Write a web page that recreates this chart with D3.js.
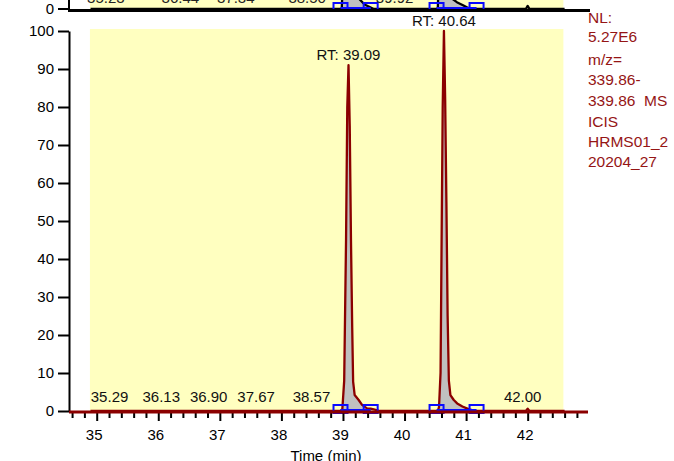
<!DOCTYPE html>
<html><head><meta charset="utf-8">
<script src="https://cdn.jsdelivr.net/npm/d3@7"></script>
<style>
html,body{margin:0;padding:0;background:#fff;}
svg{display:block;font-family:"Liberation Sans",Arial,sans-serif;}
</style></head>
<body>
<svg id="c" width="674" height="461"></svg>
<script>
// ---- data ----
// main trace: retention time (min) vs relative abundance (%)
const mainTimes = [34.90, 35.29, 36.13, 36.90, 37.67, 38.57, 38.96, 38.99, 39.02, 39.05, 39.07, 39.09, 39.11, 39.13, 39.15, 39.165, 39.19, 39.255, 39.31, 39.39, 39.45, 39.50, 39.60,
  40.54, 40.56, 40.585, 40.60, 40.62, 40.64, 40.66, 40.68, 40.70, 40.72, 40.745, 40.80, 40.855, 40.94, 41.04, 41.15, 41.97, 42.00, 42.03, 42.60];
const mainValues = [0, 0, 0, 0, 0, 0, 0, 0.5, 8, 45, 80, 91, 75, 45, 22, 7.7, 4.2, 2.9, 1.6, 0.7, 0.6, 0.4, 0,
  0, 1, 10, 40, 80, 100, 82, 55, 25, 8, 4.2, 2.9, 2.0, 1.2, 0.5, 0, 0, 0.6, 0, 0];
// upper (mostly hidden) trace
const topTimes = [34.90, 38.98, 39.03, 39.09, 39.15, 39.22, 39.25, 39.35, 39.45, 39.50, 40.54, 40.60, 40.64, 40.70, 40.75, 40.85, 40.95, 41.02, 41.10, 41.97, 42.00, 42.03, 42.60];
const topValues = [0, 0, 20, 60, 20, 5, 2.9, 1.2, 0.4, 0, 0, 30, 80, 20, 3, 1.8, 1.0, 0.4, 0, 0, 0.8, 0, 0];

const peakLabelTimes = [35.29, 36.13, 36.90, 37.67, 38.57, 42.00];
const topLabelTimes = [35.23, 36.44, 37.34, 38.50, 39.92];
const rtTimes = [39.09, 40.64];
const rtValues = [91, 100];
const boxStarts = [38.96, 40.52];
const boxEnds = [39.45, 41.17];
const yTicks = [0, 10, 20, 30, 40, 50, 60, 70, 80, 90, 100];
const majorTicks = [35, 36, 37, 38, 39, 40, 41, 42];
const minorTicks = [34.6, 34.8, 35.2, 35.4, 35.6, 35.8, 36.2, 36.4, 36.6, 36.8, 37.2, 37.4, 37.6, 37.8, 38.2, 38.4, 38.6, 38.8,
  39.2, 39.4, 39.6, 39.8, 40.2, 40.4, 40.6, 40.8, 41.2, 41.4, 41.6, 41.8, 42.2, 42.4, 42.6, 42.8];
const infoLines = ["NL:", "5.27E6", "m/z=", "339.86-", "339.86  MS", "ICIS", "HRMS01_2", "20204_27"];
const xTitle = "Time (min)";

// ---- drawing ----
const svg = d3.select("#c");
const RED = "#8b0000", BLUE = "#0a0aff", YEL = "#ffffc0", GRAY = "#c0c0c0";

const x = d3.scaleLinear().domain([34.55, 42.98]).range([69, 588]);
const y = d3.scaleLinear().domain([0, 100]).range([411, 31]);
const yTop = d3.scaleLinear().domain([0, 100]).range([9, -371]);

const mainData = mainTimes.map((t, i) => ({t, v: mainValues[i]}));
const topData = topTimes.map((t, i) => ({t, v: topValues[i]}));

function panel(g, data, ys, stroke, plotTop) {
  const y0 = ys(0);
  g.append("rect").attr("x", x(34.89)).attr("y", plotTop)
    .attr("width", x(42.58) - x(34.89)).attr("height", y0 - plotTop).attr("fill", YEL);
  boxStarts.forEach((s, i) => {
    const e = boxEnds[i];
    const seg = data.filter(d => d.t >= s && d.t <= e);
    g.append("path").datum(seg)
      .attr("d", d3.area().x(d => x(d.t)).y0(y0).y1(d => ys(d.v)))
      .attr("fill", GRAY);
  });
  g.append("path").datum(data)
    .attr("d", d3.line().x(d => x(d.t)).y(d => ys(d.v)))
    .attr("fill", "none").attr("stroke", stroke).attr("stroke-width", 2.3)
    .attr("stroke-linejoin", "round");
  boxStarts.forEach((s, i) => {
    const e = boxEnds[i];
    g.append("line").attr("x1", x(s)).attr("x2", x(e)).attr("y1", y0 - 1).attr("y2", y0 - 1)
      .attr("stroke", BLUE).attr("stroke-width", 2);
    [s, e].forEach(t => {
      g.append("rect").attr("x", x(t) - 7).attr("y", y0 - 6).attr("width", 14).attr("height", 8)
        .attr("fill", "none").attr("stroke", BLUE).attr("stroke-width", 2);
    });
  });
}

// top panel (only its bottom edge is visible)
const gt = svg.append("g");
panel(gt, topData, yTop, "#000", -20);
gt.selectAll("text.tl").data(topLabelTimes).join("text")
  .attr("x", d => x(d) - 5).attr("y", 3).attr("text-anchor", "middle")
  .attr("font-size", 15).attr("fill", "#222").text(d => d.toFixed(2));
gt.append("line").attr("x1", 68).attr("x2", 590).attr("y1", 10.5).attr("y2", 10.5)
  .attr("stroke", "#000").attr("stroke-width", 3);
gt.append("line").attr("x1", 69).attr("x2", 69).attr("y1", 0).attr("y2", 10)
  .attr("stroke", "#000").attr("stroke-width", 2);
gt.append("line").attr("x1", 58).attr("x2", 69).attr("y1", 9).attr("y2", 9)
  .attr("stroke", "#000").attr("stroke-width", 2);
gt.append("text").attr("x", 54).attr("y", 14).attr("text-anchor", "end")
  .attr("font-size", 15).attr("fill", "#000").text("0");

// main panel
const gm = svg.append("g");
panel(gm, mainData, y, RED, 29);

gm.selectAll("text.pl").data(peakLabelTimes).join("text")
  .attr("x", d => x(d) - 5).attr("y", 402).attr("text-anchor", "middle")
  .attr("font-size", 15).attr("fill", "#111").text(d => d.toFixed(2));
gm.selectAll("text.rt").data(rtTimes).join("text")
  .attr("x", d => x(d)).attr("y", (d, i) => y(rtValues[i]) - 5).attr("text-anchor", "middle")
  .attr("font-size", 15).attr("fill", "#111").text(d => "RT: " + d.toFixed(2));

// y axis
const ya = gm.append("g").attr("transform", "translate(69,0)")
  .call(d3.axisLeft(y).tickValues(yTicks).tickSize(11).tickSizeOuter(0).tickPadding(4));
ya.select(".domain").attr("stroke-width", 2);
ya.selectAll(".tick line").attr("stroke-width", 2);
ya.selectAll(".tick text").attr("font-size", 15).attr("font-family", "Liberation Sans, Arial, sans-serif").attr("fill", "#000");

// x axis ticks
const xaMinor = gm.append("g").attr("transform", "translate(0,412)")
  .call(d3.axisBottom(x).tickValues(minorTicks).tickSize(6).tickSizeOuter(0).tickFormat(""));
xaMinor.select(".domain").remove();
xaMinor.selectAll(".tick line").attr("stroke-width", 2);
const xaMajor = gm.append("g").attr("transform", "translate(0,412)")
  .call(d3.axisBottom(x).tickValues(majorTicks).tickSize(9).tickSizeOuter(0).tickPadding(8).tickFormat(d3.format("d")));
xaMajor.select(".domain").remove();
xaMajor.selectAll(".tick line").attr("stroke-width", 2);
xaMajor.selectAll(".tick text").attr("font-size", 15).attr("dx", -3).attr("font-family", "Liberation Sans, Arial, sans-serif").attr("fill", "#000");
// red baseline axis
gm.append("line").attr("x1", 69).attr("x2", 588).attr("y1", 412).attr("y2", 412)
  .attr("stroke", RED).attr("stroke-width", 3);

gm.append("text").attr("x", 326).attr("y", 461).attr("text-anchor", "middle")
  .attr("font-size", 15).attr("fill", "#000").text(xTitle);

// info block
const infoY = [22.7, 42, 65, 85, 106, 127, 147, 167];
svg.append("g").selectAll("text").data(infoLines).join("text")
  .attr("x", 588).attr("y", (d, i) => infoY[i]).attr("font-size", 15.5)
  .attr("fill", "#951515").style("white-space", "pre").text(d => d);
</script>
</body></html>
